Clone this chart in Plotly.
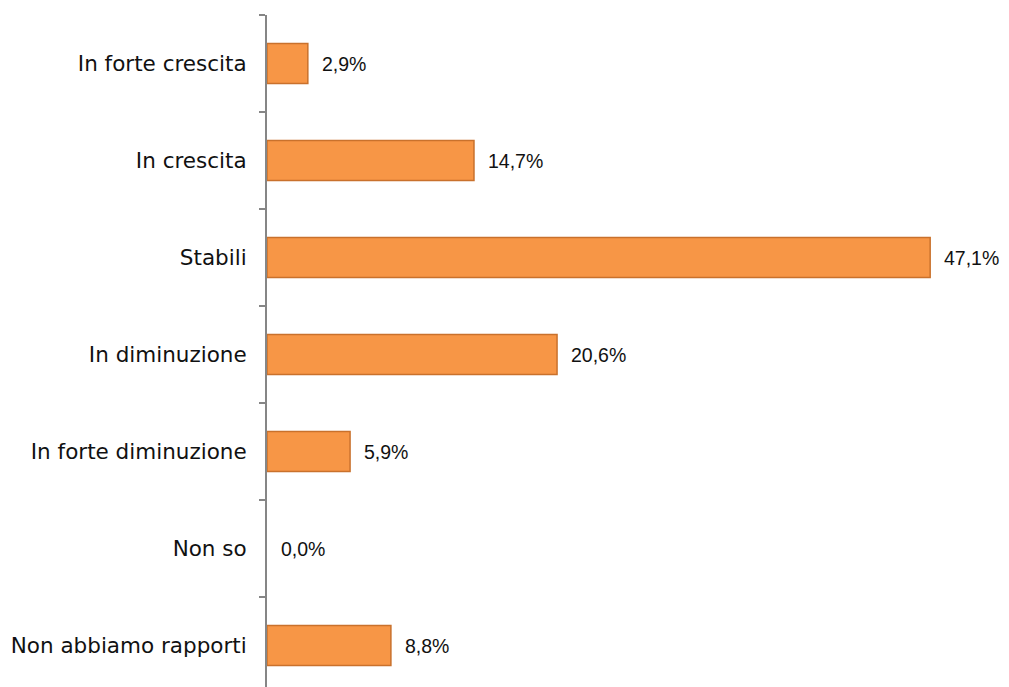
import plotly.graph_objects as go

categories = ["In forte crescita", "In crescita", "Stabili", "In diminuzione",
              "In forte diminuzione", "Non so", "Non abbiamo rapporti"]
values = [2.9, 14.7, 47.1, 20.6, 5.9, 0.0, 8.8]
labels = [f"{v:.1f}%".replace(".", ",") for v in values]

FONT = "DejaVu Sans"
VFONT = "Liberation Sans"

fig = go.Figure()
fig.add_trace(go.Bar(
    y=categories, x=values, orientation="h",
    marker=dict(color="#F79646",
                line=dict(color="#C9712C", width=[1.5 if v > 0 else 0 for v in values])),
    hoverinfo="skip",
))
for c, v, t in zip(categories, values, labels):
    fig.add_annotation(x=v, y=c, text=t, showarrow=False, xanchor="left",
                       xshift=12, font=dict(family=VFONT, size=19.5, color="#111111"))

fig.update_layout(
    width=993, height=679,
    margin=dict(l=259, r=30, t=7, b=0),
    plot_bgcolor="white", paper_bgcolor="white",
    bargap=0.59, showlegend=False,
    font=dict(family=FONT, size=21, color="#111111"),
)
fig.update_xaxes(range=[0, 50], visible=False, showgrid=False, zeroline=False)
fig.update_yaxes(
    type="category", categoryorder="array", categoryarray=categories,
    range=[-0.5 + 672 / 97, -0.5],
    showline=True, linecolor="#868686", linewidth=2,
    ticks="outside", tickson="boundaries", ticklen=6, tickcolor="#868686", tickwidth=2,
    ticklabelstandoff=14, showgrid=False, zeroline=False,
    tickfont=dict(family=FONT, size=21.5, color="#111111"),
)
fig.write_html("out.html")
